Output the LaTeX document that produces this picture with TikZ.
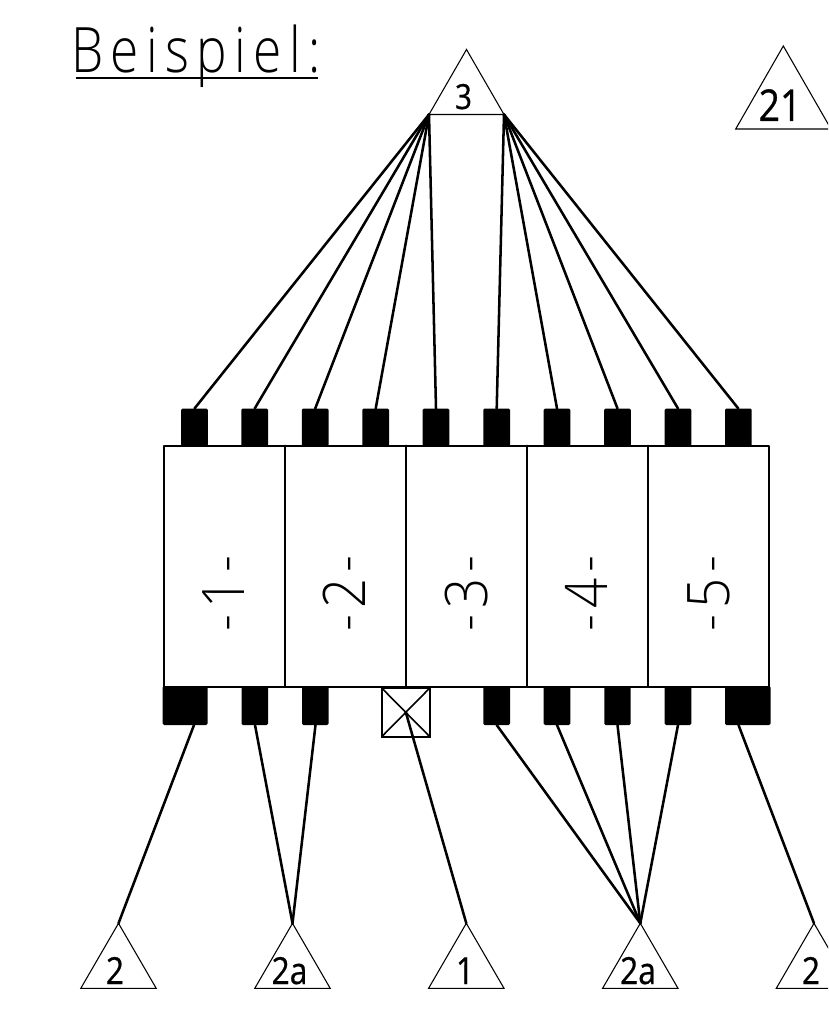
\documentclass[tikz,border=0pt]{standalone}
\usepackage{fontspec}
\newfontfamily\isofont[FakeStretch=0.82,LetterSpace=11.8]{Open Sans Light}
\newfontfamily\isocell[FakeStretch=0.9,LetterSpace=10]{Open Sans Light}
\newfontfamily\isolabel[FakeStretch=0.85,FakeBold=0.6]{Open Sans}
\tikzset{
  x=0.75pt,y=-0.75pt,
  mainline/.style={line width=1.7pt,line cap=round,line join=round},
  conn/.style={line width=1.9pt,line cap=round},
  thin tri/.style={line width=0.8pt,line join=miter},
  pin/.style={fill=black,draw=none,rounded corners=1pt},
  label/.style={anchor=base,inner sep=0pt,outer sep=0pt,font=\isolabel},
  cellno/.style={anchor=base west,rotate=90,inner sep=0pt,outer sep=0pt,font=\isocell\fontsize{44}{44}\selectfont},
}
\newcommand{\pinnode}[3]{%
  \path[pin] (#2-13.3,408.5) rectangle (#2+13.3,446);
  \coordinate (#1) at (#2,408.5);}
\newcommand{\lowpin}[4]{%
  \path[pin] (#2,686) rectangle (#3,725);
  \coordinate (#1) at (#4,725);}
\newcommand{\tri}[4]{% name, apex x, apex y, half width/height scale
  \coordinate (#1) at (#2,#3);
  \coordinate (#1L) at (#2-#4,#3+65);
  \coordinate (#1R) at (#2+#4,#3+65);
  \draw[thin tri] (#1) -- (#1L) -- (#1R) -- cycle;}
\begin{document}
\begin{tikzpicture}
\useasboundingbox (0,0) rectangle (828,1013);
\clip (0,0) rectangle (828,1013);
% title
\node[anchor=base west,inner sep=0pt,font=\isofont\fontsize{47}{47}\selectfont] (title) at (71,72.5) {Beispiel:};
\draw[line width=2pt] (75.5,78) -- (318,78);
% triangles
\tri{tc}{466.5}{49.5}{37.5}
\coordinate (twentyone) at (783.3,46);
\draw[thin tri] (twentyone) -- (735.7,129) -- (831,129) -- cycle;
\tri{ta}{118.5}{923.3}{37.7}
\tri{tb}{292.5}{923.3}{37.7}
\tri{td}{466.3}{923.3}{37.7}
\tri{te}{640.3}{923.3}{37.7}
\tri{tf}{814}{923.3}{37.7}
% triangle labels
\node[label,font=\isolabel\fontsize{26}{26}\selectfont] (l3) at (463.5,109) {3};
\node[label,font=\isolabel\fontsize{33}{33}\selectfont] (l21) at (780,121) {21};
\node[label,font=\isolabel\fontsize{28}{28}\selectfont] (l2) at (115,984) {2};
\node[label,font=\isolabel\fontsize{28}{28}\selectfont] (l2a) at (289.5,984) {2a};
\node[label,font=\isolabel\fontsize{28}{28}\selectfont] (l1) at (465,984) {1};
\node[label,font=\isolabel\fontsize{28}{28}\selectfont] (l2b) at (638,984) {2a};
\node[label,font=\isolabel\fontsize{28}{28}\selectfont] (l2c) at (811,984) {2};
% upper pins
\pinnode{u1}{194.5}{}
\pinnode{u2}{254.7}{}
\pinnode{u3}{315.2}{}
\pinnode{u4}{375.7}{}
\pinnode{u5}{436}{}
\pinnode{u6}{496.7}{}
\pinnode{u7}{557}{}
\pinnode{u8}{617.5}{}
\pinnode{u9}{678}{}
\pinnode{u10}{738.3}{}
% lower pins
\lowpin{d1}{162.7}{207.5}{194}
\lowpin{d2}{241.5}{268}{255}
\lowpin{d3}{302}{328.5}{315.5}
\lowpin{d5}{483.3}{510}{496.7}
\lowpin{d6}{543.7}{570.3}{557}
\lowpin{d7}{604.3}{630.7}{617.5}
\lowpin{d8}{664.7}{691.3}{678}
\lowpin{d9}{725}{770.5}{738.5}
% cell block
\draw[mainline,fill=white] (164,445.7) rectangle (768.7,687);
\foreach \x in {285,405.7,527,648}{\draw[mainline] (\x,445.7) -- (\x,687);}
% cross box
\coordinate (xa) at (381.7,688);
\coordinate (xb) at (429.8,736.7);
\coordinate (xc) at (405.8,712.3);
\draw[line width=1.2pt,fill=white] (xa) rectangle (xb);
\draw[line width=1.2pt] (xa) -- (xb) (381.7,736.7) -- (429.8,688);
% cell numbers
\node[cellno] (c1) at (244,631) {-1-};
\node[cellno] (c2) at (365.5,631) {-2-};
\node[cellno] (c3) at (487,631) {-3-};
\node[cellno] (c4) at (607.5,631) {-4-};
\node[cellno] (c5) at (729,631) {-5-};
% connectors
\foreach \n in {u1,u2,u3,u4,u5}{\draw[conn] (tcL) -- (\n);}
\foreach \n in {u6,u7,u8,u9,u10}{\draw[conn] (tcR) -- (\n);}
\draw[conn] (d1) -- (ta);
\draw[conn] (d2) -- (tb);
\draw[conn] (d3) -- (tb);
\draw[conn] (xc) -- (td);
\foreach \n in {d5,d6,d7,d8}{\draw[conn] (\n) -- (te);}
\draw[conn] (d9) -- (tf);
\end{tikzpicture}
\end{document}
